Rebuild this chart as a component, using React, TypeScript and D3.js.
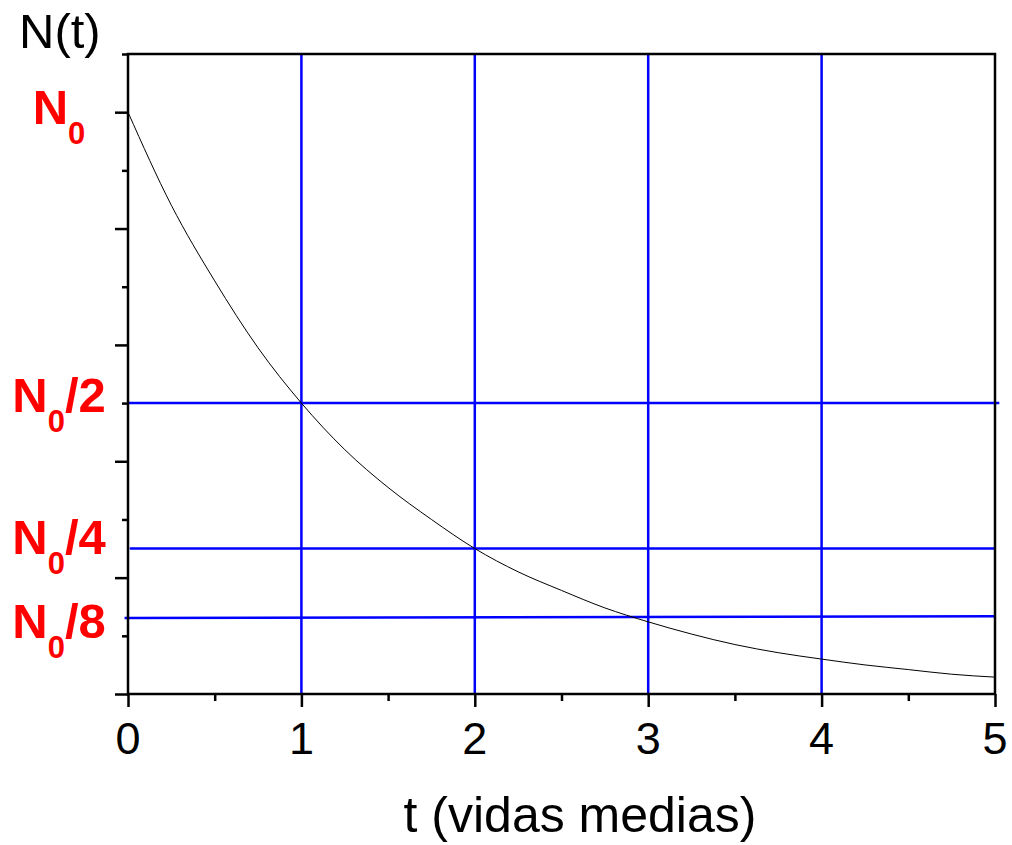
import React, { useEffect, useRef } from 'react';
import * as d3 from 'd3';

// decay curve (t in half-lives, N in units of N0)
const tValues = [0, 0.25, 0.5, 0.75, 1, 1.25, 1.5, 1.75, 2, 2.25, 2.5, 2.75, 3, 3.25, 3.5, 3.75, 4, 4.25, 4.5, 4.75, 5];
const nValues = [1.0, 0.84, 0.71, 0.595, 0.5, 0.42, 0.355, 0.3, 0.25, 0.21, 0.178, 0.148, 0.124, 0.103, 0.085, 0.071, 0.06, 0.05, 0.042, 0.034, 0.029];

// reference lines
const vLines = [1, 2, 3, 4];
const hLines = [
  { t0: 0, t1: 5.025, n0: 0.5, n1: 0.5 },
  { t0: 0.01, t1: 5, n0: 0.25, n1: 0.25 },
  { t0: -0.02, t1: 5, n0: 0.1308, n1: 0.1335 },
];

// y labels (subscript split)
const yLabels = [
  { main: 'N', rest: '', value: 1.0 },
  { main: 'N', rest: '/2', value: 0.5 },
  { main: 'N', rest: '/4', value: 0.25 },
  { main: 'N', rest: '/8', value: 0.125 },
];
const yLabelShift = [12, 9, 5, 17];

const xMajor = [0, 1, 2, 3, 4, 5];
const xMinor = [0.5, 1.5, 2.5, 3.5, 4.5];
const yMajor = [0, 0.2, 0.4, 0.6, 0.8, 1.0];
const yMinor = [0.1, 0.3, 0.5, 0.7, 0.9, 1.1];

const App = () => {
  const svgRef = useRef(null);

  useEffect(() => {
    const width = 1012, height = 845;
    const left = 128, right = 995, top = 54, bottom = 694;
    const font = '"Liberation Sans", Arial, sans-serif';

    const svg = d3.select(svgRef.current);
    svg.selectAll('*').remove();

    const x = d3.scaleLinear().domain([0, 5]).range([left, right]);
    const y = d3.scaleLinear().domain([0, 1.1]).range([bottom, top]);

    // blue guide lines
    svg.selectAll('line.v')
      .data(vLines)
      .enter()
      .append('line')
      .attr('x1', d => x(d)).attr('x2', d => x(d))
      .attr('y1', y(1.1)).attr('y2', y(0))
      .attr('stroke', '#0000ff')
      .attr('stroke-width', 2.5);

    svg.selectAll('line.h')
      .data(hLines)
      .enter()
      .append('line')
      .attr('x1', d => x(d.t0)).attr('x2', d => x(d.t1))
      .attr('y1', d => y(d.n0)).attr('y2', d => y(d.n1))
      .attr('stroke', '#0000ff')
      .attr('stroke-width', 2.5);

    // decay curve
    const line = d3.line()
      .x(d => x(d[0]))
      .y(d => y(d[1]))
      .curve(d3.curveMonotoneX);

    svg.append('path')
      .datum(tValues.map((t, i) => [t, nValues[i]]))
      .attr('d', line)
      .attr('fill', 'none')
      .attr('stroke', '#000')
      .attr('stroke-width', 1);

    // frame
    const axisStroke = 2.5;
    svg.append('rect')
      .attr('x', left).attr('y', top)
      .attr('width', right - left).attr('height', bottom - top)
      .attr('fill', 'none')
      .attr('stroke', '#000')
      .attr('stroke-width', axisStroke);

    // y ticks
    const yAxisMajor = d3.axisLeft(y).tickValues(yMajor).tickSize(13).tickSizeOuter(0).tickFormat(() => '');
    const yAxisMinor = d3.axisLeft(y).tickValues(yMinor).tickSize(6).tickSizeOuter(0).tickFormat(() => '');
    [yAxisMajor, yAxisMinor].forEach(ax => {
      const g = svg.append('g').attr('transform', `translate(${left},0)`).call(ax);
      g.select('.domain').remove();
      g.selectAll('line').attr('stroke', '#000').attr('stroke-width', axisStroke);
    });

    // x ticks
    const xAxisMajor = d3.axisBottom(x).tickValues(xMajor).tickSize(13).tickSizeOuter(0).tickFormat(() => '');
    const xAxisMinor = d3.axisBottom(x).tickValues(xMinor).tickSize(7).tickSizeOuter(0).tickFormat(() => '');
    [xAxisMajor, xAxisMinor].forEach(ax => {
      const g = svg.append('g').attr('transform', `translate(0,${bottom})`).call(ax);
      g.select('.domain').remove();
      g.selectAll('line').attr('stroke', '#000').attr('stroke-width', axisStroke);
    });

    // x tick labels
    svg.selectAll('text.xt')
      .data(xMajor)
      .enter()
      .append('text')
      .attr('x', d => x(d))
      .attr('y', 754)
      .attr('text-anchor', 'middle')
      .style('font-family', font)
      .style('font-size', '45px')
      .text(d => d);

    // axis titles
    svg.append('text')
      .attr('x', 580)
      .attr('y', 832)
      .attr('text-anchor', 'middle')
      .style('font-family', font)
      .style('font-size', '50px')
      .text('t (vidas medias)');

    svg.append('text')
      .attr('x', 19)
      .attr('y', 48)
      .style('font-family', font)
      .style('font-size', '49px')
      .text('N(t)');

    // red y labels
    yLabels.forEach((d, i) => {
      const t = svg.append('text')
        .attr('x', 59)
        .attr('y', y(d.value) + yLabelShift[i])
        .attr('text-anchor', 'middle')
        .attr('fill', '#ff0000')
        .style('font-family', font)
        .style('font-weight', 'bold')
        .style('font-size', '49px');
      t.append('tspan').text(d.main);
      t.append('tspan').attr('dy', 20).style('font-size', '31px').text('0');
      if (d.rest) t.append('tspan').attr('dy', -20).text(d.rest);
    });

    svg.attr('width', width).attr('height', height);
  }, []);

  return (
    <svg
      ref={svgRef}
      width={1012}
      height={845}
      style={{ position: 'absolute', left: 0, top: 0, background: 'white' }}
    />
  );
};

export default App;
